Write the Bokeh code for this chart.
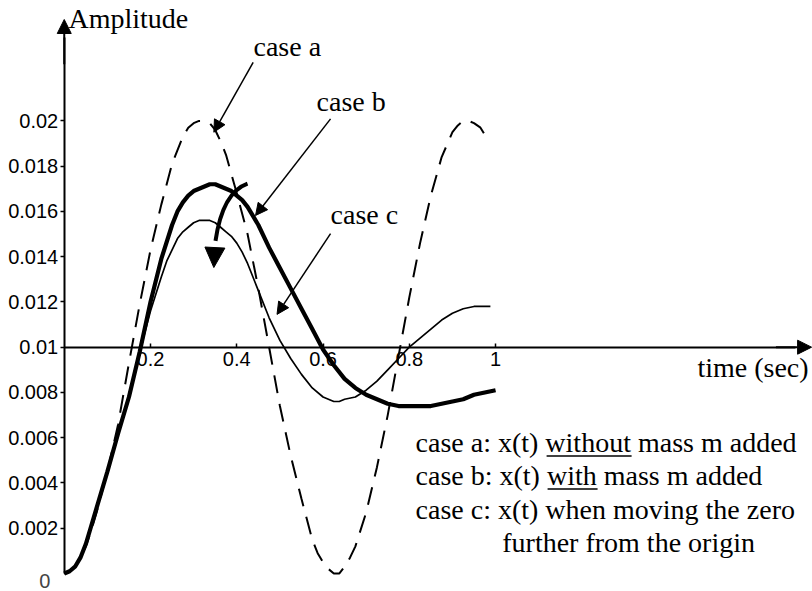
from bokeh.plotting import figure
from bokeh.models import (Range1d, LinearAxis, FixedTicker, CustomJSTickFormatter,
                          Arrow, NormalHead, Label)
from bokeh.embed import file_html
from bokeh.resources import INLINE

# case a: x(t) without mass m added (dashed)
time_a = [0.0, 0.0125, 0.025, 0.0375, 0.05, 0.0625, 0.075, 0.1, 0.125, 0.15, 0.175,
          0.2, 0.225, 0.25, 0.275, 0.2875, 0.3, 0.3125, 0.325, 0.3375, 0.35, 0.3625,
          0.375, 0.4, 0.425, 0.45, 0.475, 0.5, 0.525, 0.55, 0.575, 0.5875, 0.6, 0.6125,
          0.625, 0.6375, 0.65, 0.6625, 0.675, 0.7, 0.725, 0.75, 0.775, 0.8, 0.825, 0.85,
          0.875, 0.9, 0.9125, 0.925, 0.9375, 0.95, 0.965, 0.978]
case_a = [0.0, 0.0001, 0.0003, 0.0007, 0.0012, 0.0019, 0.0027, 0.0045, 0.0066, 0.0093,
          0.0119, 0.0143, 0.0163, 0.0181, 0.0193, 0.0197, 0.0199, 0.0200, 0.0200, 0.0199,
          0.0196, 0.0191, 0.0185, 0.0168, 0.0150, 0.0126, 0.0100, 0.0074, 0.0052, 0.0033,
          0.0015, 0.0009, 0.0005, 0.0002, 0.0000, 0.0000, 0.0003, 0.0007, 0.0012, 0.0027,
          0.0047, 0.0070, 0.0096, 0.0122, 0.0146, 0.0167, 0.0184, 0.0195, 0.0198, 0.0200,
          0.0200, 0.0199, 0.0197, 0.0193]

# case b: x(t) with mass m added (thick)
time_b = [0.0, 0.0125, 0.025, 0.0375, 0.05, 0.0625, 0.075, 0.1, 0.125, 0.15, 0.175,
          0.2, 0.225, 0.25, 0.2625, 0.275, 0.2875, 0.3, 0.3125, 0.325, 0.3375, 0.35,
          0.3625, 0.375, 0.3875, 0.4, 0.4125, 0.425, 0.4375, 0.45, 0.475, 0.5, 0.525,
          0.55, 0.575, 0.6, 0.625, 0.65, 0.675, 0.7, 0.725, 0.75, 0.775, 0.8, 0.825,
          0.85, 0.875, 0.9, 0.925, 0.95, 0.975, 1.0]
case_b = [0.0, 0.0001, 0.0003, 0.0007, 0.0013, 0.0021, 0.0029, 0.0045, 0.0062, 0.0078,
          0.0098, 0.0120, 0.0139, 0.0154, 0.0160, 0.0164, 0.0167, 0.0169, 0.0170, 0.0171,
          0.0172, 0.0172, 0.0171, 0.0170, 0.0169, 0.0167, 0.0165, 0.0162, 0.0158, 0.0154,
          0.0144, 0.0135, 0.0126, 0.0117, 0.0108, 0.0099, 0.0092, 0.0086, 0.0082, 0.0079,
          0.0077, 0.0075, 0.0074, 0.0074, 0.0074, 0.0074, 0.0075, 0.0076, 0.0077, 0.0079,
          0.0080, 0.0081]

# case c: x(t) when moving the zero further from the origin (thin)
time_c = [0.0, 0.0125, 0.025, 0.0375, 0.05, 0.0625, 0.075, 0.1, 0.125, 0.15, 0.175,
          0.2, 0.225, 0.2375, 0.25, 0.2625, 0.275, 0.2875, 0.3, 0.3125, 0.325, 0.3375,
          0.35, 0.3625, 0.375, 0.3875, 0.4, 0.4125, 0.425, 0.4375, 0.45, 0.475, 0.5,
          0.525, 0.55, 0.575, 0.6, 0.6125, 0.625, 0.6375, 0.65, 0.675, 0.7, 0.725, 0.75,
          0.775, 0.8, 0.825, 0.85, 0.875, 0.9, 0.925, 0.95, 0.975, 0.988]
case_c = [0.0, 0.0001, 0.0003, 0.0007, 0.0013, 0.0021, 0.0029, 0.0045, 0.0062, 0.0079,
          0.0098, 0.0116, 0.0131, 0.0138, 0.0143, 0.0148, 0.0151, 0.0153, 0.0155, 0.0156,
          0.0156, 0.0156, 0.0155, 0.0153, 0.0151, 0.0149, 0.0146, 0.0142, 0.0137, 0.0131,
          0.0125, 0.0113, 0.0103, 0.0095, 0.0088, 0.0082, 0.0078, 0.0077, 0.0076, 0.0076,
          0.0077, 0.0078, 0.0081, 0.0085, 0.0090, 0.0095, 0.0100, 0.0104, 0.0108, 0.0112,
          0.0115, 0.0117, 0.0118, 0.0118, 0.0118]

x_ticks = [0.2, 0.4, 0.6, 0.8, 1.0]
y_ticks = [0.002, 0.004, 0.006, 0.008, 0.01, 0.012, 0.014, 0.016, 0.018, 0.02]

legend_lines = ["case a: x(t) without mass m added",
                "case b: x(t) with mass m added",
                "case c: x(t) when moving the zero",
                "further from the origin"]

SERIF = "Liberation Serif"
SANS = "Liberation Sans"

p = figure(width=812, height=591, x_range=Range1d(-0.1478, 1.7348),
           y_range=Range1d(-0.000795, 0.02532), x_axis_type=None, y_axis_type=None,
           toolbar_location=None, output_backend="svg", min_border=0)
p.outline_line_color = None
p.background_fill_color = "white"

fmt = CustomJSTickFormatter(code="return Number(tick.toPrecision(6)).toString();")

xaxis = LinearAxis(ticker=FixedTicker(ticks=x_ticks), formatter=fmt,
                   fixed_location=0.01, bounds=(0, 1.696))
yaxis = LinearAxis(ticker=FixedTicker(ticks=y_ticks), formatter=fmt,
                   fixed_location=0, bounds=(0, 0.0237))
for ax in (xaxis, yaxis):
    ax.axis_line_width = 2
    ax.axis_line_color = "black"
    ax.major_tick_line_width = 1.5
    ax.major_tick_line_color = "black"
    ax.minor_tick_in = 0
    ax.minor_tick_out = 0
    ax.major_label_text_font = SANS
    ax.major_label_text_font_size = "20px"
    ax.major_label_text_color = "black"
xaxis.major_tick_in = 4
xaxis.major_tick_out = 0
xaxis.major_label_standoff = 5
yaxis.major_tick_in = 0
yaxis.major_tick_out = 4
yaxis.major_label_standoff = 2
p.add_layout(xaxis, "below")
p.add_layout(yaxis, "left")

# axis arrowheads
p.add_layout(Arrow(end=NormalHead(size=14, fill_color="black", line_color="black"),
                   x_start=0, y_start=0.0225, x_end=0, y_end=0.02448,
                   line_width=2, line_color="black"))
p.add_layout(Arrow(end=NormalHead(size=14, fill_color="black", line_color="black"),
                   x_start=1.65, y_start=0.01, x_end=1.7327, y_end=0.01,
                   line_width=2, line_color="black"))

# origin label
p.add_layout(Label(x=-0.0319, y=-0.00031, text="0", text_font=SANS,
                   text_font_size="20px", text_align="right", text_baseline="middle"))

# curves
p.line(time_a, case_a, line_color="black", line_width=2, line_dash="18 11")
p.line(time_c, case_c, line_color="black", line_width=1.7)
p.line(time_b, case_b, line_color="black", line_width=4.2)

# curved arrow near the peak of case b
p.quadratic(x0=[0.4249], y0=[0.01723], x1=[0.3507], y1=[0.01470],
            cx=[0.367], cy=[0.01684], line_color="black", line_width=4)
p.add_layout(Arrow(end=NormalHead(size=20, fill_color="black", line_color="black"),
                   x_start=0.3510, y_start=0.0150, x_end=0.3468, y_end=0.01352,
                   line_alpha=0))

# annotation arrows
for (xs, ys, xe, ye) in [(0.4380, 0.02259, 0.3468, 0.01950),
                         (0.6174, 0.02009, 0.4435, 0.01582),
                         (0.6174, 0.01502, 0.4933, 0.01145)]:
    p.add_layout(Arrow(end=NormalHead(size=12, fill_color="black", line_color="black"),
                       x_start=xs, y_start=ys, x_end=xe, y_end=ye,
                       line_width=1.5, line_color="black"))

def serif_label(x, y, text, align="left"):
    p.add_layout(Label(x=x, y=y, text=text, text_font=SERIF, text_font_size="28px",
                       text_color="black", text_align=align,
                       text_baseline="alphabetic"))

serif_label(0.0099, 0.024527, "Amplitude")
serif_label(0.4388, 0.02329, "case a")
serif_label(0.5849, 0.02086, "case b")
serif_label(0.6174, 0.015866, "case c")
serif_label(1.7258, 0.009105, "time (sec)", align="right")

serif_label(0.8145, 0.005791, legend_lines[0])
serif_label(0.8145, 0.004333, legend_lines[1])
serif_label(0.8145, 0.002830, legend_lines[2])
serif_label(1.0155, 0.001370, legend_lines[3])

# underlines for "without" and "with"
p.segment(x0=[1.1183, 1.1206], y0=[0.005190, 0.003730],
          x1=[1.3154, 1.2365], y1=[0.005190, 0.003730],
          line_color="black", line_width=1.5)

open("out.html", "w").write(file_html(p, INLINE))
